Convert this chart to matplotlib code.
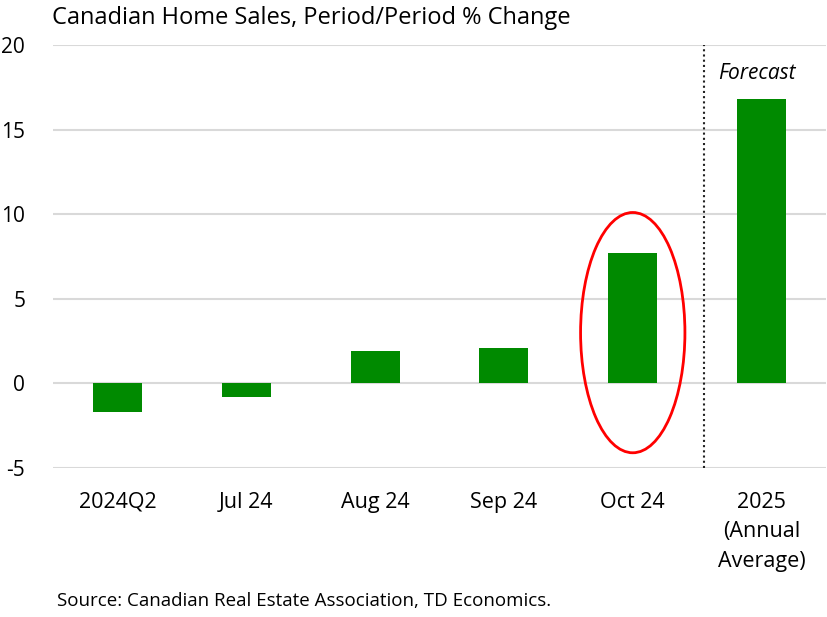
import matplotlib
matplotlib.use("Agg")
import matplotlib.pyplot as plt
from matplotlib.patches import Ellipse

categories = ["2024Q2", "Jul 24", "Aug 24", "Sep 24", "Oct 24", "2025\n(Annual\nAverage)"]
values = [-1.7, -0.8, 1.9, 2.1, 7.7, 16.8]
yticks = [-5, 0, 5, 10, 15, 20]

plt.rcParams['font.family'] = ['Open Sans', 'DejaVu Sans']

fig = plt.figure(figsize=(8.27, 6.17), dpi=100)
ax = fig.add_axes([53/827, 1 - 468/617, (826 - 53)/827, (468 - 45)/617])

x = list(range(len(categories)))
ax.bar(x, values, width=0.38, color="#008a00", zorder=3)

ax.set_xlim(-0.5, len(categories) - 0.5)
ax.set_ylim(-5, 20)
ax.set_yticks(yticks)
ax.set_yticklabels([str(t) for t in yticks], fontsize=15)
ax.set_xticks(x)
ax.set_xticklabels(categories, fontsize=15.5, linespacing=1.55)
ax.tick_params(axis='both', length=0)
ax.tick_params(axis='x', pad=17)
ax.tick_params(axis='y', pad=20)

ax.yaxis.grid(True, color="#d9d9d9", linewidth=1.5, zorder=0)
for s in ax.spines.values():
    s.set_visible(False)

# forecast divider
ax.axvline(4.55, ymin=0, ymax=1, color="#222222", linestyle=(0, (1, 1.5)), linewidth=1.5, zorder=4)
ax.text(4.66, 18.3, "Forecast", fontsize=15, style='italic', ha='left', va='center')

# highlight ellipse
ax.add_patch(Ellipse((4, 3.0), width=0.81, height=14.2, fill=False, edgecolor="red", linewidth=2, zorder=5))

fig.text(52/827, 1 - 18/617, "Canadian Home Sales, Period/Period % Change", fontsize=17, ha='left', va='center')
fig.text(57/827, 1 - 601/617, "Source: Canadian Real Estate Association, TD Economics.", fontsize=13.5, ha='left', va='center')

fig.savefig("out.png", dpi=100)
